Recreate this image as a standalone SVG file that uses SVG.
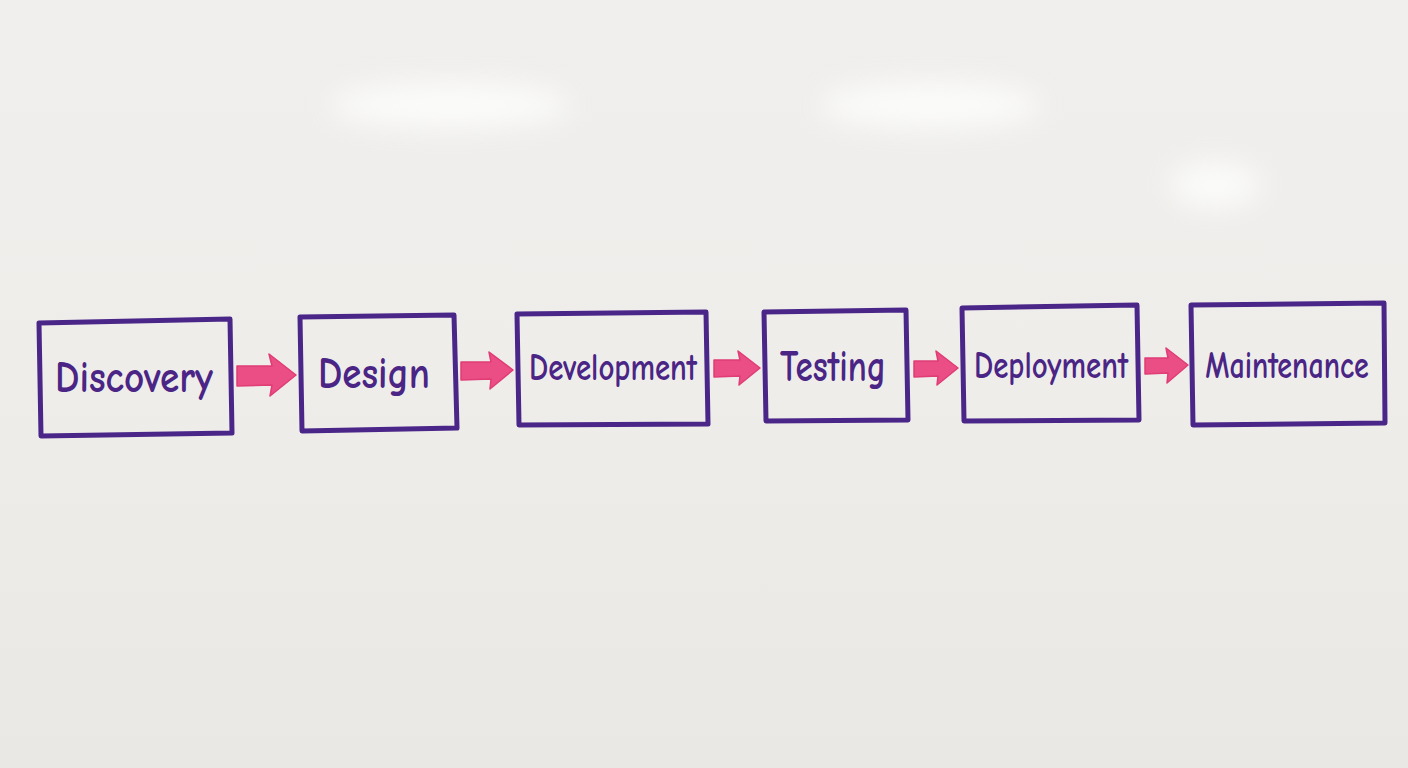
<svg xmlns="http://www.w3.org/2000/svg" width="1408" height="768" viewBox="0 0 1408 768">
<defs>
<linearGradient id="bg" x1="0" y1="0" x2="0" y2="1">
<stop offset="0" stop-color="#f0efed"/>
<stop offset="0.5" stop-color="#eeedea"/>
<stop offset="1" stop-color="#e9e8e5"/>
</linearGradient>
<filter id="blur" x="-50%" y="-50%" width="200%" height="200%"><feGaussianBlur stdDeviation="14"/></filter>
</defs>
<style>
.box{fill:none;stroke:#4b2689;stroke-width:5;stroke-linejoin:round}
.lbl{font-family:"Comic Neue","Liberation Sans",sans-serif;font-size:44px;font-weight:bold;fill:#4a2585;text-anchor:middle;dominant-baseline:central}
.sm{font-size:38px}
.arr{fill:#ea4e84;stroke:#e03c76;stroke-width:1.5;stroke-linejoin:round}
</style>
<rect width="1408" height="768" fill="url(#bg)"/>
<g filter="url(#blur)" fill="#ffffff" opacity="0.8">
<ellipse cx="450" cy="105" rx="120" ry="22"/>
<ellipse cx="930" cy="105" rx="110" ry="22"/>
<ellipse cx="1215" cy="185" rx="45" ry="22"/>
</g>
<g id="nodes">
<g id="discovery"><path class="box" d="M39,323 L230,319 L232,433 L41,436 Z"/><text class="lbl" x="134" y="377" textLength="158" lengthAdjust="spacingAndGlyphs">Discovery</text></g>
<g id="design"><path class="box" d="M300,317 L454,315 L457,428 L302,431 Z"/><text class="lbl" x="374" y="373" textLength="112" lengthAdjust="spacingAndGlyphs">Design</text></g>
<g id="development"><path class="box" d="M517,314 L706,312 L708,424 L519,425 Z"/><text class="lbl sm" x="613" y="368" textLength="168" lengthAdjust="spacingAndGlyphs">Development</text></g>
<g id="testing"><path class="box" d="M764,312 L906,310 L908,420 L766,421 Z"/><text class="lbl" x="833" y="366" textLength="106" lengthAdjust="spacingAndGlyphs">Testing</text></g>
<g id="deployment"><path class="box" d="M962,308 L1137,305 L1139,420 L964,421 Z"/><text class="lbl sm" x="1051" y="366" textLength="154" lengthAdjust="spacingAndGlyphs">Deployment</text></g>
<g id="maintenance"><path class="box" d="M1191,305 L1384,303 L1385,423 L1193,425 Z"/><text class="lbl sm" x="0" y="0" transform="translate(1287,366) scale(0.79,1)">Maintenance</text></g>
</g>
<g id="connectors">
<path class="arr" d="M237,366 L272,366 L269,354 L296,375 L270,396 L272,385 L237,386 Z"/>
<path class="arr" d="M461,362 L491,362 L489,352 L513,370 L490,389 L491,379 L461,380 Z"/>
<path class="arr" d="M714,360 L740,360 L738,351 L760,368 L739,385 L740,376 L714,377 Z"/>
<path class="arr" d="M914,361 L938,361 L936,351 L958,368 L937,385 L938,376 L914,377 Z"/>
<path class="arr" d="M1145,358 L1168,358 L1166,348 L1188,365 L1167,383 L1168,373 L1145,374 Z"/>
</g>
</svg>
